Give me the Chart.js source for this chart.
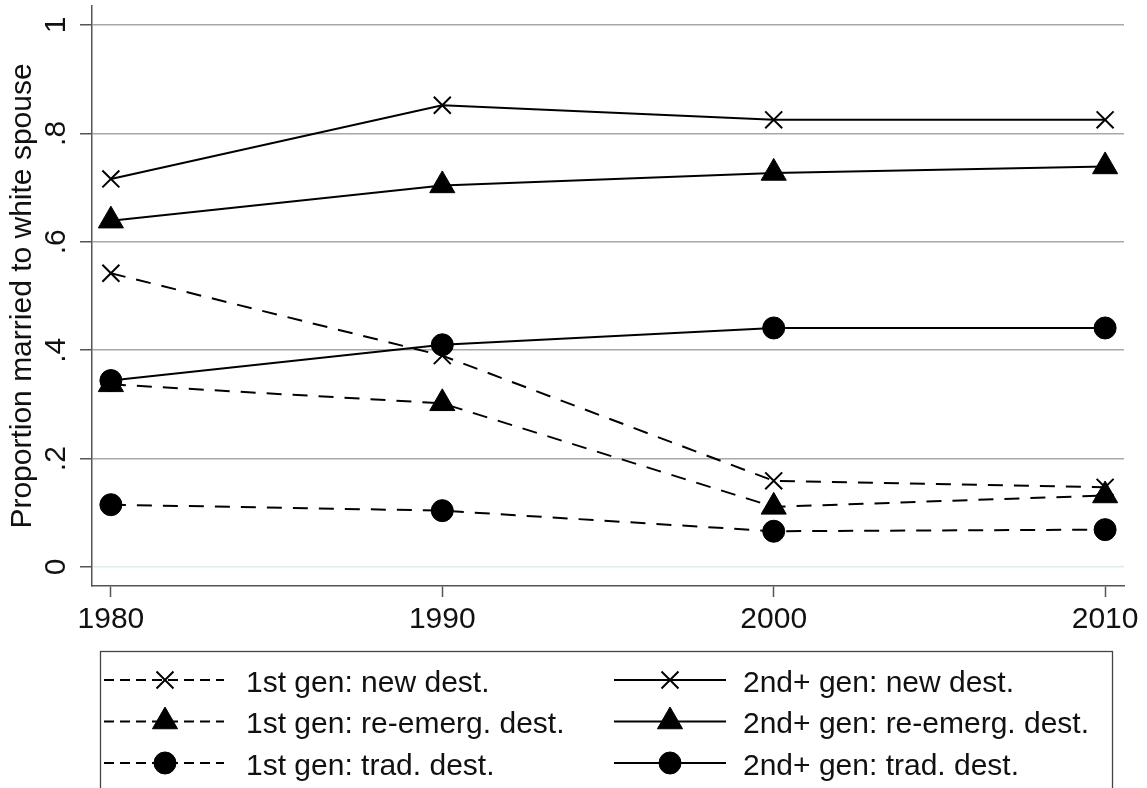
<!DOCTYPE html>
<html>
<head>
<meta charset="utf-8">
<script src="https://cdn.jsdelivr.net/npm/chart.js@4.4.1/dist/chart.umd.min.js"></script>
<style>
html, body { margin: 0; padding: 0; background: #ffffff; }
#wrap { width: 1147px; height: 788px; position: relative; overflow: hidden; }
canvas { display: block; }
</style>
</head>
<body>
<div id="wrap"><canvas id="c" width="1147" height="788"></canvas></div>
<script>
// ---- data ----
const years = [1980, 1990, 2000, 2010];
const yTicks = [0, 0.2, 0.4, 0.6, 0.8, 1];
const yTickLabels = ['0', '.2', '.4', '.6', '.8', '1'];
const yTitle = 'Proportion married to white spouse';

const seriesLabels = [
  '1st gen: new dest.',
  '1st gen: re-emerg. dest.',
  '1st gen: trad. dest.',
  '2nd+ gen: new dest.',
  '2nd+ gen: re-emerg. dest.',
  '2nd+ gen: trad. dest.'
];
const gen1New    = [0.542, 0.390, 0.159, 0.147];
const gen1Reemg  = [0.337, 0.302, 0.111, 0.132];
const gen1Trad   = [0.115, 0.104, 0.066, 0.069];
const gen2New    = [0.716, 0.852, 0.825, 0.825];
const gen2Reemg  = [0.639, 0.704, 0.727, 0.739];
const gen2Trad   = [0.344, 0.410, 0.441, 0.441];

// ---- styling ----
const FONT = '"Liberation Sans", Arial, Helvetica, sans-serif';
const INK = '#111111';
const AXIS = '#555555';
const PLOT_DASH = [15, 11];

const seriesValues = [gen1New, gen1Reemg, gen1Trad, gen2New, gen2Reemg, gen2Trad];
const markerStyles = ['crossRot', 'triangle', 'circle', 'crossRot', 'triangle', 'circle'];
const markerRadius = { crossRot: 12, triangle: 14.5, circle: 11 };

const datasets = seriesValues.map((vals, i) => {
  const st = markerStyles[i];
  const dashed = i < 3;
  return {
    label: seriesLabels[i],
    data: years.map((yr, k) => ({ x: yr, y: vals[k] })),
    borderColor: '#000000',
    backgroundColor: '#000000',
    borderWidth: 2,
    borderDash: dashed ? PLOT_DASH : [],
    pointStyle: st,
    pointRadius: markerRadius[st],
    pointBackgroundColor: '#000000',
    pointBorderColor: '#000000',
    pointBorderWidth: st === 'crossRot' ? 2 : 1,
    tension: 0,
    clip: false
  };
});

const legendPlugin = {
  id: 'stataLegend',
  afterDraw(chart, args, opts) {
    const ctx = chart.ctx;
    ctx.save();
    ctx.setLineDash([]);
    ctx.strokeStyle = '#444444';
    ctx.lineWidth = 1.3;
    ctx.strokeRect(opts.box.left, opts.box.top, opts.box.right - opts.box.left, opts.box.bottom - opts.box.top);
    chart.data.datasets.forEach((ds, i) => {
      const col = opts.columns[Math.floor(i / 3)];
      const y = opts.rows[i % 3];
      ctx.save();
      ctx.strokeStyle = ds.borderColor;
      ctx.lineWidth = ds.borderWidth;
      ctx.setLineDash(ds.borderDash && ds.borderDash.length ? opts.legendDash : []);
      ctx.beginPath();
      ctx.moveTo(col.x0, y);
      ctx.lineTo(col.x1, y);
      ctx.stroke();
      ctx.restore();
      ctx.save();
      ctx.setLineDash([]);
      ctx.fillStyle = ds.pointBackgroundColor;
      ctx.strokeStyle = ds.pointBorderColor;
      ctx.lineWidth = ds.pointBorderWidth;
      Chart.helpers.drawPoint(ctx, {
        pointStyle: ds.pointStyle,
        radius: ds.pointRadius,
        rotation: 0,
        borderWidth: ds.pointBorderWidth
      }, col.xm, y);
      ctx.restore();
      ctx.fillStyle = INK;
      ctx.font = '30px ' + FONT;
      ctx.textAlign = 'left';
      ctx.textBaseline = 'alphabetic';
      ctx.fillText(ds.label, col.textX, y + 11.5);
    });
    ctx.restore();
  }
};

new Chart(document.getElementById('c'), {
  type: 'line',
  data: { datasets },
  plugins: [legendPlugin],
  options: {
    responsive: false,
    animation: false,
    devicePixelRatio: 1,
    layout: { autoPadding: false, padding: { top: 6, right: 23, left: 0, bottom: 0 } },
    plugins: {
      legend: { display: false },
      tooltip: { enabled: false },
      stataLegend: {
        box: { left: 100.5, top: 651.5, right: 1112.5, bottom: 800 },
        columns: [
          { x0: 104, x1: 224, xm: 165, textX: 246 },
          { x0: 614, x1: 726, xm: 670, textX: 743 }
        ],
        rows: [680, 721.5, 763],
        legendDash: [10, 6]
      }
    },
    scales: {
      x: {
        type: 'linear',
        min: 1979.43,
        max: 2010.57,
        afterBuildTicks: s => { s.ticks = years.map(v => ({ value: v })); },
        afterFit: s => { s.height = 202; s.paddingLeft = 0; s.paddingRight = 0; },
        grid: { drawOnChartArea: false, drawTicks: true, tickLength: 11, tickColor: AXIS, tickWidth: 1.5 },
        border: { display: true, color: AXIS, width: 1.5 },
        ticks: {
          padding: 5, color: INK, maxRotation: 0, minRotation: 0, autoSkip: false,
          font: { family: FONT, size: 30 },
          callback: (v) => String(v)
        }
      },
      y: {
        type: 'linear',
        min: -0.035,
        max: 1.035,
        afterBuildTicks: s => { s.ticks = yTicks.map(v => ({ value: v })); },
        afterFit: s => { s.width = 92; s.paddingTop = 0; s.paddingBottom = 0; },
        grid: {
          drawOnChartArea: true, drawTicks: true, tickLength: 12, tickColor: AXIS, tickWidth: 1.5,
          lineWidth: 1.5,
          color: (c) => (c.tick && c.tick.value === 0) ? '#e2ebec' : '#a4a9a9'
        },
        border: { display: true, color: AXIS, width: 1.5 },
        ticks: {
          minRotation: 90, maxRotation: 90, crossAlign: 'center', padding: 11,
          color: INK, font: { family: FONT, size: 30 },
          callback: (v, i) => yTickLabels[i]
        },
        title: {
          display: true, text: yTitle, color: INK,
          font: { family: FONT, size: 30 },
          padding: { top: 5, bottom: 0 }
        }
      }
    }
  }
});
</script>
</body>
</html>
